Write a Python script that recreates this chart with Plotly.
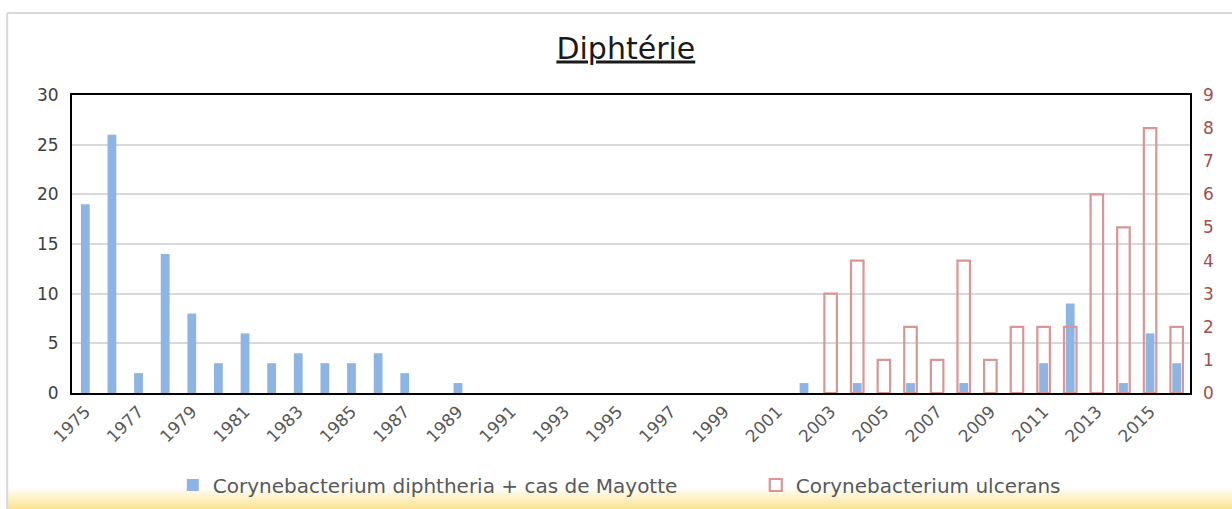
import plotly.graph_objects as go

years = list(range(1975, 2017))
diphtheria = [19, 26, 2, 14, 8, 3, 6, 3, 4, 3, 3, 4, 2, 0, 1,
              0, 0, 0, 0, 0, 0, 0, 0, 0, 0, 0, 0,
              1, 0, 1, 0, 1, 0, 1, 0, 0, 3, 9, 0, 1, 6, 3]
ulcerans_years = list(range(2003, 2017))
ulcerans = [3, 4, 1, 2, 1, 4, 1, 2, 2, 2, 6, 5, 8, 2]
tick_years = list(range(1975, 2017, 2))
left_ticks = [0, 5, 10, 15, 20, 25, 30]
right_ticks = list(range(0, 10))

FONT = "DejaVu Sans"
GRAY = "#595959"
BLUE = "#8DB4E2"
RED = "#D99694"
RED_TXT = "#A0504E"

fig = go.Figure()
fig.add_trace(go.Bar(
    x=years, y=diphtheria, name="Corynebacterium diphtheria + cas de Mayotte",
    marker=dict(color=BLUE, line=dict(width=0)), width=0.33, yaxis="y",
    legend="legend",
))
fig.add_trace(go.Bar(
    x=ulcerans_years, y=ulcerans, name="Corynebacterium ulcerans",
    marker=dict(color="rgba(255,255,255,0)", line=dict(color=RED, width=2.2)),
    width=0.47, yaxis="y2", legend="legend2",
))

shapes = []
# outer chart frame (gray)
shapes.append(dict(type="line", xref="paper", yref="paper", x0=-0.058, x1=1.1,
                   y0=1.275, y1=1.275, line=dict(color="#D9D9D9", width=2)))
shapes.append(dict(type="line", xref="paper", yref="paper", x0=-0.058, x1=-0.058,
                   y0=1.275, y1=-0.45, line=dict(color="#D9D9D9", width=2)))
# bottom gradient band (white -> pale yellow)
n = 11
top_px, bot_px = 487.0, 510.0
c0 = (255, 255, 255)
c1 = (252, 226, 140)
for i in range(n):
    f = (i + 0.5) / n
    col = tuple(int(c0[k] + (c1[k] - c0[k]) * f) for k in range(3))
    ya = top_px + (bot_px - top_px) * i / n
    yb = top_px + (bot_px - top_px) * (i + 1) / n + 0.6
    shapes.append(dict(type="rect", xref="paper", yref="paper",
                       x0=(7 - 72) / 1120, x1=1.1,
                       y0=(393 - ya) / 298, y1=(393 - yb) / 298,
                       fillcolor="rgb(%d,%d,%d)" % col, line=dict(width=0),
                       layer="below"))

legend_common = dict(orientation="h", xanchor="left", yref="container",
                     y=1 - 485 / 509, yanchor="middle",
                     font=dict(size=20, color=GRAY), itemwidth=30,
                     bgcolor="rgba(0,0,0,0)")

fig.update_layout(
    width=1232, height=509,
    margin=dict(l=72, r=42, t=95, b=116, autoexpand=False),
    paper_bgcolor="white", plot_bgcolor="white",
    barmode="overlay",
    font=dict(family=FONT, color=GRAY, size=17),
    title=dict(text="<u>Diphtérie</u>", x=0.508, xanchor="center",
               y=1 - 48 / 509, yref="container", yanchor="middle",
               font=dict(family=FONT, size=30, color="#1a1a1a")),
    xaxis=dict(range=[1974.5, 2016.5], tickmode="array", tickvals=tick_years,
               ticktext=[str(y) for y in tick_years], tickangle=-45,
               showgrid=False, showline=True, mirror=True, linecolor="black",
               linewidth=2, ticks="", zeroline=False, automargin=False,
               tickfont=dict(size=17, color=GRAY)),
    yaxis=dict(range=[0, 30], tickvals=left_ticks, showgrid=True,
               gridcolor="#D9D9D9", gridwidth=2, showline=True, mirror=True,
               linecolor="black", linewidth=2, zeroline=False, ticks="",
               automargin=False,
               tickfont=dict(size=17, color="#404040"), ticklabelstandoff=8),
    yaxis2=dict(range=[0, 9], tickvals=right_ticks, overlaying="y", side="right",
                showgrid=False, showline=False, zeroline=False, ticks="",
                automargin=False,
                tickfont=dict(size=17, color=RED_TXT), ticklabelstandoff=12),
    legend=dict(x=(173 - 72) / 1120, **legend_common),
    legend2=dict(x=(757 - 72) / 1120, **legend_common),
    shapes=shapes,
    showlegend=True,
)

fig.write_html("out.html", config={"displayModeBar": False},
               post_script="document.body.style.margin='0';")
